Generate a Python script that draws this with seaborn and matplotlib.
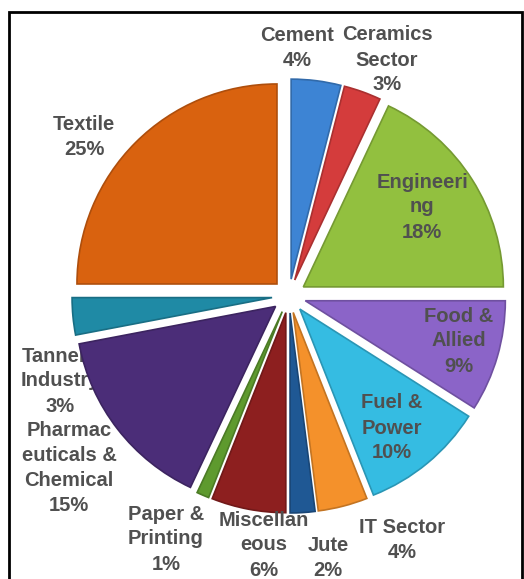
import matplotlib
matplotlib.use("Agg")
import matplotlib.pyplot as plt
import matplotlib.patches as mpatches
import seaborn as sns
import numpy as np

# Share of industrial units by sector
sectors = ["Cement", "Ceramics\nSector", "Engineeri\nng", "Food &\nAllied",
           "Fuel &\nPower", "IT Sector", "Jute", "Miscellan\neous",
           "Paper &\nPrinting", "Pharmac\neuticals &\nChemical",
           "Tannery\nIndustry", "Textile"]
shares = [4, 3, 18, 9, 10, 4, 2, 6, 1, 15, 3, 25]

slice_colors = ["#3d84d4", "#d43c3c", "#92c03f", "#8b64c8", "#35bce2", "#f4912b",
                "#1f5894", "#8d1f1f", "#5e9a2e", "#4b2d78", "#1f8aa5", "#d9620f"]

# label anchor points in units of the pie radius
label_xy = [(0.04, 1.24), (0.49, 1.18), (0.665, 0.445), (0.85, -0.225),
            (0.515, -0.66), (0.565, -1.22), (0.195, -1.31), (-0.125, -1.245),
            (-0.615, -1.215), (-1.10, -0.86), (-1.145, -0.425), (-1.025, 0.795)]
label_z = [3, 3, 3, 3, 3, 3, 3, 3, 3, 3, 0.5, 3]

sns.set_theme(style="white")
plt.rcParams["font.family"] = ["Liberation Sans", "DejaVu Sans"]

W, H = 524, 579
fig = plt.figure(figsize=(W / 100, H / 100), dpi=100)
ax = fig.add_axes([0, 0, 1, 1])
cx, cy, R = 289, 296, 200
ax.axis("off")

palette = sns.color_palette(slice_colors)
edge_cols = [tuple(c * 0.8 for c in col) for col in palette]

wedges, _ = ax.pie(shares, colors=palette, startangle=90, counterclock=False,
                   explode=[0.085] * len(shares), radius=1.0,
                   wedgeprops=dict(linewidth=1.2), frame=False)
for w, ec in zip(wedges, edge_cols):
    w.set_edgecolor(ec)
    w.set_zorder(1)

ax.set_aspect("auto")
ax.set_xlim(-cx / R, (W - cx) / R)
ax.set_ylim(-(H - cy) / R, cy / R)

for name, val, (x, y), z in zip(sectors, shares, label_xy, label_z):
    ax.text(x, y, f"{name}\n{val}%", ha="center", va="center",
            fontsize=14.5, fontweight="bold", color="#505050",
            linespacing=1.4, zorder=z)

# frame around the whole chart
fig.patches.append(mpatches.Rectangle((9 / W, -0.05), 513 / W, 1.05 - 12 / H,
                                      transform=fig.transFigure, fill=False,
                                      edgecolor="black", linewidth=2))

fig.savefig("out.png", dpi=100)
